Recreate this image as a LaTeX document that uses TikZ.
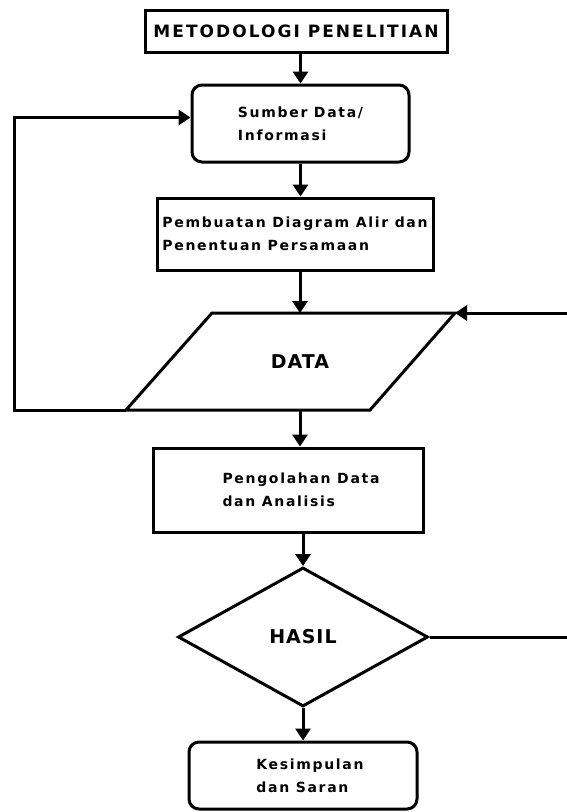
\documentclass[tikz,border=0pt]{standalone}
\usepackage{fontspec}
\setmainfont{DejaVu Sans}
\newfontfamily\titlefont{DejaVu Sans}[LetterSpace=12]
\newfontfamily\boxfont{DejaVu Sans}[LetterSpace=12]
\newfontfamily\bigfont{DejaVu Sans}[LetterSpace=5]
\usetikzlibrary{shapes.geometric,arrows.meta}

\begin{document}
\begin{tikzpicture}[x=1pt,y=-1pt,line width=3pt,>={Triangle[length=12pt,width=15pt]}]
        \tikzstyle{block} = [rectangle, draw, align=left, inner sep=0pt, font=\boxfont\fontsize{14}{23}\selectfont\bfseries]
        \tikzstyle{rblock} = [block, rounded corners=10pt]
        \tikzstyle{bigtext} = [font=\bigfont\fontsize{19}{23}\selectfont\bfseries]
        \tikzstyle{arrow} = [->]

        \useasboundingbox (0,0) rectangle (567,812);

        % Nodes
        \node[rectangle, draw, inner sep=0pt, minimum width=302pt, minimum height=42pt, font=\titlefont\fontsize{17}{20}\selectfont\bfseries] (judul) at (296,31) {METODOLOGI PENELITIAN};
        \node[rblock, minimum width=217pt, minimum height=77pt] (sumber) at (300.5,123.5) {Sumber Data/\\Informasi};
        \node[block, minimum width=276pt, minimum height=72pt] (pembuatan) at (295,234) {Pembuatan Diagram Alir dan\\Penentuan Persamaan};

        % Input data (parallelogram)
        \coordinate (dtl) at (212,313);
        \coordinate (dtr) at (455,313);
        \coordinate (dbr) at (370,410);
        \coordinate (dbl) at (126,410);
        \draw (dtl) -- (dtr) -- (dbr) -- (dbl) -- cycle;
        \node[bigtext] (data) at (300,362) {DATA};

        \node[block, minimum width=270pt, minimum height=84pt] (pengolahan) at (288,490) {\hspace*{26pt}Pengolahan Data\\\hspace*{26pt}dan Analisis};
        \node[diamond, draw, aspect=1.8, inner sep=0pt, minimum width=250pt, minimum height=139pt, bigtext] (hasil) at (303,637) {HASIL};
        \node[rblock, minimum width=228pt, minimum height=67pt] (kesimpulan) at (303,775.5) {\hspace*{14pt}Kesimpulan\\\hspace*{14pt}dan Saran};

        % Loop corners (right one lies past the page edge)
        \coordinate (kiri) at (14,410);
        \coordinate (kanan) at (571,637);

        % Straight arrows
        \draw[arrow] (sumber.north |- judul.south) -- (sumber.north);
        \draw[arrow] (sumber.south) -- (sumber.south |- pembuatan.north);
        \draw[arrow] (data |- pembuatan.south) -- (data |- dtl);
        \draw[arrow] (data |- dbl) -- (data |- pengolahan.north);
        \draw[arrow] (hasil.north |- pengolahan.south) -- (hasil.north);
        \draw[arrow] (hasil.south) -- (kesimpulan.north);

        % Feedback loops
        \draw[arrow] (dbl) -- (kiri) |- ([yshift=6pt]sumber.west);
        \draw[arrow] (hasil.east) -- (kanan) |- (dtr);
    \end{tikzpicture}
\end{document}
